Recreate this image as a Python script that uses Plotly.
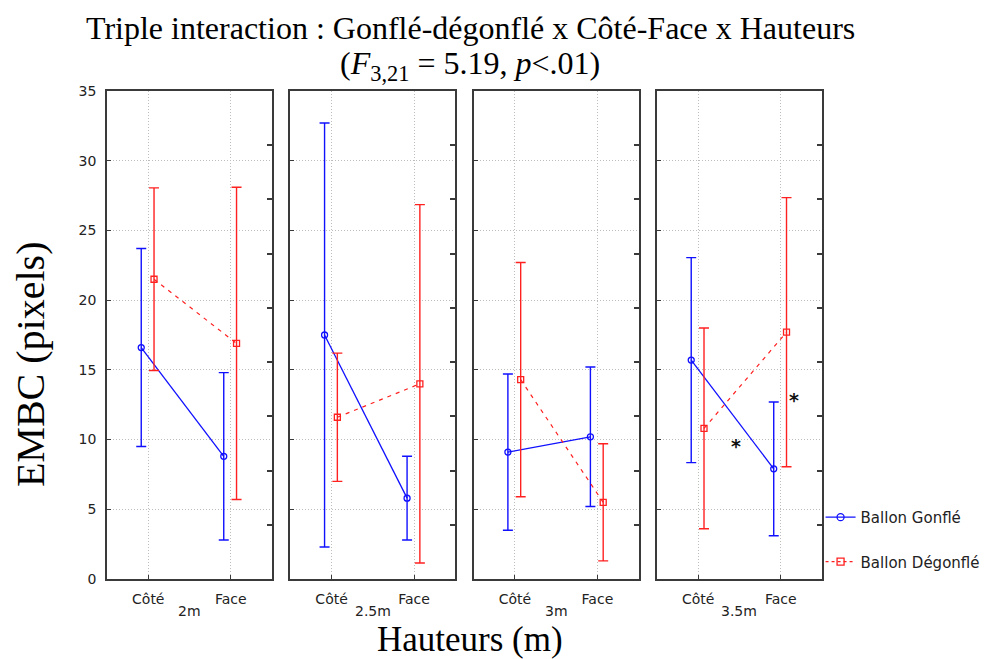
import plotly.graph_objects as go

# Mean EMBC (pixels) and confidence half-widths, per height, for [Côté, Face]
heights = ["2m", "2.5m", "3m", "3.5m"]
positions = ["Côté", "Face"]
gonfle_mean = [[16.6, 8.8], [17.5, 5.8], [9.1, 10.2], [15.7, 7.9]]
gonfle_ci = [[7.1, 6.0], [15.2, 3.0], [5.6, 5.0], [7.35, 4.8]]
degonfle_mean = [[21.5, 16.9], [11.6, 14.0], [14.3, 5.5], [10.8, 17.7]]
degonfle_ci = [[6.55, 11.2], [4.6, 12.85], [8.4, 4.2], [7.2, 9.65]]
series_names = ["Ballon Gonflé", "Ballon Dégonflé"]

# significance stars in the 3.5m panel: (x position, y value)
stars = [(0.46, 9.9), (1.16, 13.2)]

BLUE = "#1010ff"
RED = "#ff2020"
AXIS = "#3a3a3a"
GRID = "#bdbdbd"
SANS = "DejaVu Sans, Verdana, sans-serif"
SERIF = "Liberation Serif, Times New Roman, serif"

fig = go.Figure()

n = len(heights)
gap = 0.0256
w = (1 - gap * (n - 1)) / n
base = list(range(len(positions)))

for i, h in enumerate(heights):
    xa = "x" if i == 0 else f"x{i + 1}"
    ya = "y" if i == 0 else f"y{i + 1}"
    fig.add_trace(go.Scatter(
        x=[b - 0.085 for b in base], y=gonfle_mean[i],
        error_y=dict(type="data", array=gonfle_ci[i], color=BLUE,
                     thickness=1.4, width=5),
        mode="lines+markers",
        line=dict(color=BLUE, width=1.3),
        marker=dict(symbol="circle-open", size=6, color=BLUE,
                    line=dict(width=1.3, color=BLUE)),
        xaxis=xa, yaxis=ya, showlegend=False, name=series_names[0],
    ))
    fig.add_trace(go.Scatter(
        x=[b + 0.07 for b in base], y=degonfle_mean[i],
        error_y=dict(type="data", array=degonfle_ci[i], color=RED,
                     thickness=1.4, width=5),
        mode="lines+markers",
        line=dict(color=RED, width=1.2, dash="4px,5px"),
        marker=dict(symbol="square-open", size=6, color=RED,
                    line=dict(width=1.3, color=RED)),
        xaxis=xa, yaxis=ya, showlegend=False, name=series_names[1],
    ))

    x0 = i * (w + gap)
    xkey = "xaxis" if i == 0 else f"xaxis{i + 1}"
    ykey = "yaxis" if i == 0 else f"yaxis{i + 1}"
    fig.layout[xkey] = dict(
        domain=[x0, x0 + w], anchor=ya, range=[-0.5, 1.5],
        tickvals=base, ticktext=positions,
        showgrid=True, gridcolor=GRID, griddash="1px,2px", gridwidth=1,
        zeroline=False, showline=True, mirror=True,
        linecolor=AXIS, linewidth=1.8,
        ticks="inside", ticklen=4, tickcolor=AXIS, ticklabelstandoff=6,
        tickfont=dict(family=SANS, size=14, color="#222"),
    )
    fig.layout[ykey] = dict(
        domain=[0, 1], anchor=xa, range=[0, 35], dtick=5,
        showgrid=True, gridcolor=GRID, griddash="1px,2px", gridwidth=1,
        zeroline=False, showline=True, mirror=True,
        linecolor=AXIS, linewidth=1.8,
        ticks="inside", ticklen=4, tickcolor=AXIS, ticklabelstandoff=6,
        showticklabels=(i == 0),
        tickfont=dict(family=SANS, size=14, color="#222"),
    )
    # secondary scale: inner ticks along the right border of each panel
    y2 = f"y{n + i + 1}"
    fig.layout[f"yaxis{n + i + 1}"] = dict(
        overlaying=ya, anchor=xa, side="right", range=[0, 9], dtick=1,
        ticks="inside", ticklen=5, tickcolor=AXIS, tickwidth=1.5,
        showticklabels=False,
        showgrid=False, zeroline=False, showline=False,
    )
    fig.add_trace(go.Scatter(x=[None], y=[None], xaxis=xa, yaxis=y2,
                             showlegend=False, hoverinfo="skip"))
    # height label under each panel
    fig.add_annotation(
        text=h, xref=f"{xa} domain", yref="paper", x=0.5, y=0,
        yanchor="top", yshift=-22, showarrow=False,
        font=dict(family=SANS, size=14, color="#222"),
    )

for sx, sy in stars:
    fig.add_annotation(
        text="<b>*</b>", xref="x4", yref="y4", x=sx, y=sy, showarrow=False,
        yshift=-5, font=dict(family=SANS, size=19, color="#111"),
    )

# legend entries
fig.add_trace(go.Scatter(
    x=[None], y=[None], mode="lines+markers", name=series_names[0],
    line=dict(color=BLUE, width=1.3),
    marker=dict(symbol="circle-open", size=7, color=BLUE, line=dict(width=1.3)),
    legendgroup="a",
))
fig.add_trace(go.Scatter(
    x=[None], y=[None], mode="lines+markers", name=series_names[1],
    line=dict(color=RED, width=1.1, dash="3px,3px"),
    marker=dict(symbol="square-open", size=7, color=RED, line=dict(width=1.3)),
    legendgroup="b",
))

fig.add_annotation(
    text="Triple interaction : Gonflé-dégonflé x Côté-Face x Hauteurs",
    xref="paper", yref="paper", x=0.508, y=1.129, yanchor="middle",
    showarrow=False, font=dict(family=SERIF, size=32, color="black"),
)
fig.add_annotation(
    text="(<i>F</i><sub>3,21</sub> = 5.19, <i>p</i><.01)",
    xref="paper", yref="paper", x=0.508, y=1.053, yanchor="middle",
    showarrow=False, font=dict(family=SERIF, size=32, color="black"),
)
fig.add_annotation(
    text="Hauteurs (m)", xref="paper", yref="paper", x=0.508, y=-0.123,
    yanchor="middle", showarrow=False,
    font=dict(family=SERIF, size=35, color="black"),
)
fig.add_annotation(
    text="EMBC (pixels)", xref="paper", yref="paper", x=-0.108, y=0.44,
    xanchor="center", yanchor="middle", textangle=-90, showarrow=False,
    font=dict(family=SERIF, size=40, color="black"),
)

fig.update_layout(
    width=1004, height=659,
    margin=dict(l=107, r=182, t=91, b=80),
    paper_bgcolor="white", plot_bgcolor="white",
    showlegend=True,
    legend=dict(
        x=0.998, xanchor="left", y=0.16, yanchor="top",
        traceorder="grouped", tracegroupgap=22,
        font=dict(family=SANS, size=15, color="#222"),
        bgcolor="rgba(0,0,0,0)", itemwidth=30,
    ),
)

fig.write_html("out.html")
